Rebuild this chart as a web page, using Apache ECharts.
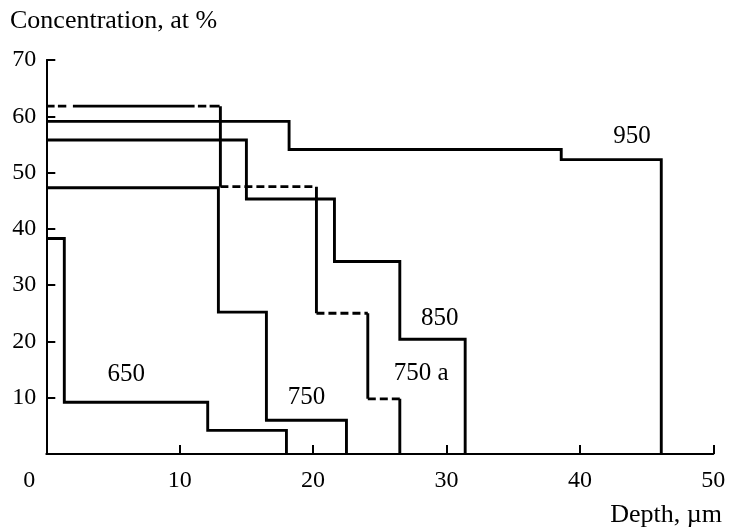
<!DOCTYPE html>
<html>
<head>
<meta charset="utf-8">
<script src="https://cdn.jsdelivr.net/npm/echarts@6/dist/echarts.min.js"></script>
<style>
  html, body { margin: 0; padding: 0; background: #fff; }
  #chart { width: 729px; height: 527px; }
</style>
</head>
<body>
<div id="chart"></div>
<script>
// Step concentration profiles: depth boundaries (µm) and the level (at %) held between them
const depth650 = [0, 1.35, 12.1, 18.0];
const conc650 = [38.3, 9.2, 4.2];

const depth750 = [0, 12.9, 16.5, 22.5];
const conc750 = [47.3, 25.2, 6.0];

const depth750a = [0, 13.05, 20.25, 24.1, 26.5];
const conc750a = [61.8, 47.5, 25.0, 9.8];

const depth850 = [0, 15.0, 21.6, 26.5, 31.4];
const conc850 = [55.8, 45.3, 34.2, 20.4];

const depth950 = [0, 18.2, 38.6, 46.1];
const conc950 = [59.1, 54.1, 52.3];

// Curve labels: [depth, concentration, text]
const curveLabels = [
  [6.0, 14.2, '650'],
  [19.5, 10.1, '750'],
  [28.1, 14.4, '750 a'],
  [29.5, 24.0, '850'],
  [43.9, 56.5, '950']
];

const depthTicks = [0, 10, 20, 30, 40, 50];
const concTicks = [0, 10, 20, 30, 40, 50, 60, 70];

const FONT = '"Liberation Serif", "Times New Roman", serif';
const LW = 2.9;

// Build the polyline of a step profile that drops to zero at its last boundary
function stepPoints(depths, levels) {
  const pts = [[depths[0], levels[0]]];
  for (let i = 0; i < levels.length; i++) {
    pts.push([depths[i + 1], levels[i]]);
    pts.push([depths[i + 1], i + 1 < levels.length ? levels[i + 1] : 0]);
  }
  return pts;
}

function solidSeries(depths, levels) {
  return {
    type: 'line',
    data: stepPoints(depths, levels),
    symbol: 'none',
    lineStyle: { color: '#000', width: LW, type: 'solid', cap: 'butt', join: 'miter' },
    silent: true
  };
}

const series = [
  solidSeries(depth650, conc650),
  solidSeries(depth750, conc750),
  solidSeries(depth850, conc850),
  solidSeries(depth950, conc950)
];

// 750 a: dashed plateaus joined by solid drops
for (let i = 0; i < conc750a.length; i++) {
  series.push({
    type: 'line',
    data: [[depth750a[i], conc750a[i]], [depth750a[i + 1], conc750a[i]]],
    symbol: 'none',
    lineStyle: {
      color: '#000', width: LW, cap: 'butt',
      type: i === 0 ? [8.3, 3.3, 8.4, 6.6, 121.7, 3.3, 8.4, 3.3, 10, 20] : [8, 4]
    },
    silent: true
  });
  series.push({
    type: 'line',
    data: [[depth750a[i + 1], conc750a[i]], [depth750a[i + 1], i + 1 < conc750a.length ? conc750a[i + 1] : 0]],
    symbol: 'none',
    lineStyle: { color: '#000', width: LW, cap: 'butt' },
    silent: true
  });
}

series.push({
  type: 'scatter',
  data: curveLabels,
  symbolSize: 0,
  silent: true,
  itemStyle: { color: '#000', opacity: 1 },
  label: {
    show: true,
    position: 'inside',
    formatter: p => p.value[2],
    color: '#000',
    opacity: 1,
    textBorderWidth: 0,
    fontFamily: FONT,
    fontSize: 25
  }
});

const chart = echarts.init(document.getElementById('chart'), null, { renderer: 'canvas' });
chart.setOption({
  animation: false,
  backgroundColor: '#fff',
  grid: { left: 46.3, right: 15.7, top: 60, bottom: 73, containLabel: false },
  xAxis: {
    type: 'value',
    min: depthTicks[0],
    max: depthTicks[depthTicks.length - 1],
    interval: 10,
    splitLine: { show: false },
    axisLine: { lineStyle: { color: '#000', width: 2 } },
    axisTick: { inside: true, length: 9, lineStyle: { color: '#000', width: 2 } },
    axisLabel: {
      margin: 15,
      color: '#000',
      fontFamily: FONT,
      fontSize: 24,
      formatter: v => v === 0 ? '{z|0}' : String(v),
      rich: { z: { padding: [0, 34, 0, 0], fontFamily: FONT, fontSize: 24, color: '#000' } }
    }
  },
  yAxis: {
    type: 'value',
    min: concTicks[0],
    max: concTicks[concTicks.length - 1],
    interval: 10,
    splitLine: { show: false },
    axisLine: { lineStyle: { color: '#000', width: 2 } },
    axisTick: { inside: true, length: 9, lineStyle: { color: '#000', width: 2 } },
    axisLabel: {
      margin: 10,
      color: '#000',
      fontFamily: FONT,
      fontSize: 24,
      formatter: v => v === 0 ? '' : String(v)
    }
  },
  graphic: [
    {
      type: 'text', left: 10, top: 8,
      style: { text: 'Concentration, at %', fill: '#000', font: '26px ' + FONT }
    },
    {
      type: 'text', right: 7, top: 502,
      style: { text: 'Depth, µm', fill: '#000', font: '26px ' + FONT }
    }
  ],
  series: series
});
</script>
</body>
</html>
